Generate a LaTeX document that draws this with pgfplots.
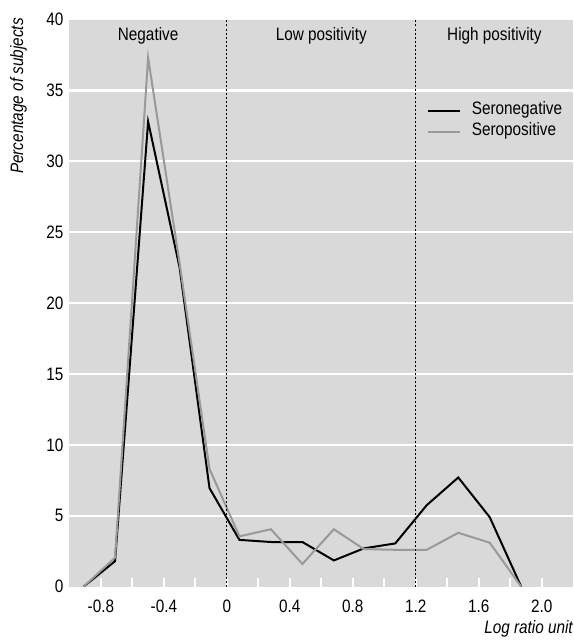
\documentclass[border=0pt]{standalone}
\usepackage{fontspec}
\setmainfont{Liberation Sans}[FakeStretch=0.85]
\usepackage{pgfplots}
\pgfplotsset{compat=1.18}
\definecolor{bg}{HTML}{D9D9D9}
\definecolor{sgray}{HTML}{999999}
\newcommand{\fs}{\fontsize{9}{10.8}\selectfont}
\begin{document}
\begin{tikzpicture}
\begin{axis}[
  scale only axis, width=251.8pt, height=283.5pt,
  xmin=-1, xmax=2.2, ymin=0, ymax=40,
  axis background/.style={fill=bg},
  axis line style={draw=none},
  xtick={-0.8,-0.4,0,0.4,0.8,1.2,1.6,2.0},
  xticklabels={-0.8,-0.4,0,0.4,0.8,1.2,1.6,2.0},
  minor xtick={-0.6,-0.2,0.2,0.6,1.0,1.4,1.8},
  ytick={0,5,...,40},
  yticklabels={0,5,10,15,20,25,30,35,40},
  minor ytick={5,10,...,35},
  yminorgrids,
  minor grid style={white, line width=1.15pt},
  tick align=inside,
  xtick pos=bottom, ytick pos=left,
  major tick length=4.2pt, minor tick length=4.2pt,
  tick style={white, line width=1pt},
  ytick style={draw=none},
  ticklabel style={font=\fs},
  xticklabel style={yshift=-3.3pt},
  yticklabel style={xshift=0.5pt},
  xlabel={Log ratio unit},
  xlabel style={at={(rel axis cs:1,-0.0587)}, anchor=north east, inner sep=0pt, font=\fs\itshape},
  ylabel={Percentage of subjects},
  ylabel style={at={(rel axis cs:-0.0836,1.003)}, anchor=south east, inner sep=0pt, font=\fs\itshape},
  legend style={at={(rel axis cs:0.71,0.858)}, anchor=north west, draw=none, fill=none,
    font=\fs, inner sep=0pt, outer sep=0pt, row sep=0pt, column sep=5.5pt,
    nodes={inner sep=0pt, text height=7pt, text depth=3.5pt}},
  legend image code/.code={\draw[#1] (0pt,0pt) -- (15.9pt,0pt);},
  legend cell align=left,
]
\addplot[black, line width=1pt] coordinates {
(-0.91,0) (-0.71,1.8) (-0.50,32.8) (-0.30,22.5) (-0.11,6.95) (0.08,3.3) (0.28,3.15) (0.48,3.15) (0.68,1.85) (0.87,2.7) (1.07,3.05) (1.27,5.75) (1.47,7.7) (1.67,4.9) (1.87,0)};
\addlegendentry{Seronegative}
\addplot[sgray, line width=1pt] coordinates {
(-0.91,0) (-0.71,2.05) (-0.50,37.3) (-0.30,22.8) (-0.11,8.3) (0.08,3.55) (0.28,4.05) (0.48,1.6) (0.68,4.05) (0.87,2.65) (1.07,2.6) (1.27,2.6) (1.47,3.8) (1.67,3.1) (1.87,0)};
\addlegendentry{Seropositive}
\draw[black, line width=0.5pt, dash pattern=on 1pt off 1pt] (axis cs:0,0) -- (axis cs:0,40);
\draw[black, line width=0.5pt, dash pattern=on 1pt off 1pt] (axis cs:1.2,0) -- (axis cs:1.2,40);
\node[font=\fs, anchor=base] at (axis cs:-0.5,38.55) {Negative};
\node[font=\fs, anchor=base] at (axis cs:0.6,38.55) {Low positivity};
\node[font=\fs, anchor=base] at (axis cs:1.7,38.55) {High positivity};
\coordinate (bl) at (rel axis cs:-0.1378,-0.0958);
\coordinate (tr) at (rel axis cs:1,1.0344);
\end{axis}
\pgfresetboundingbox
\useasboundingbox (bl) rectangle (tr);
\end{tikzpicture}
\end{document}
